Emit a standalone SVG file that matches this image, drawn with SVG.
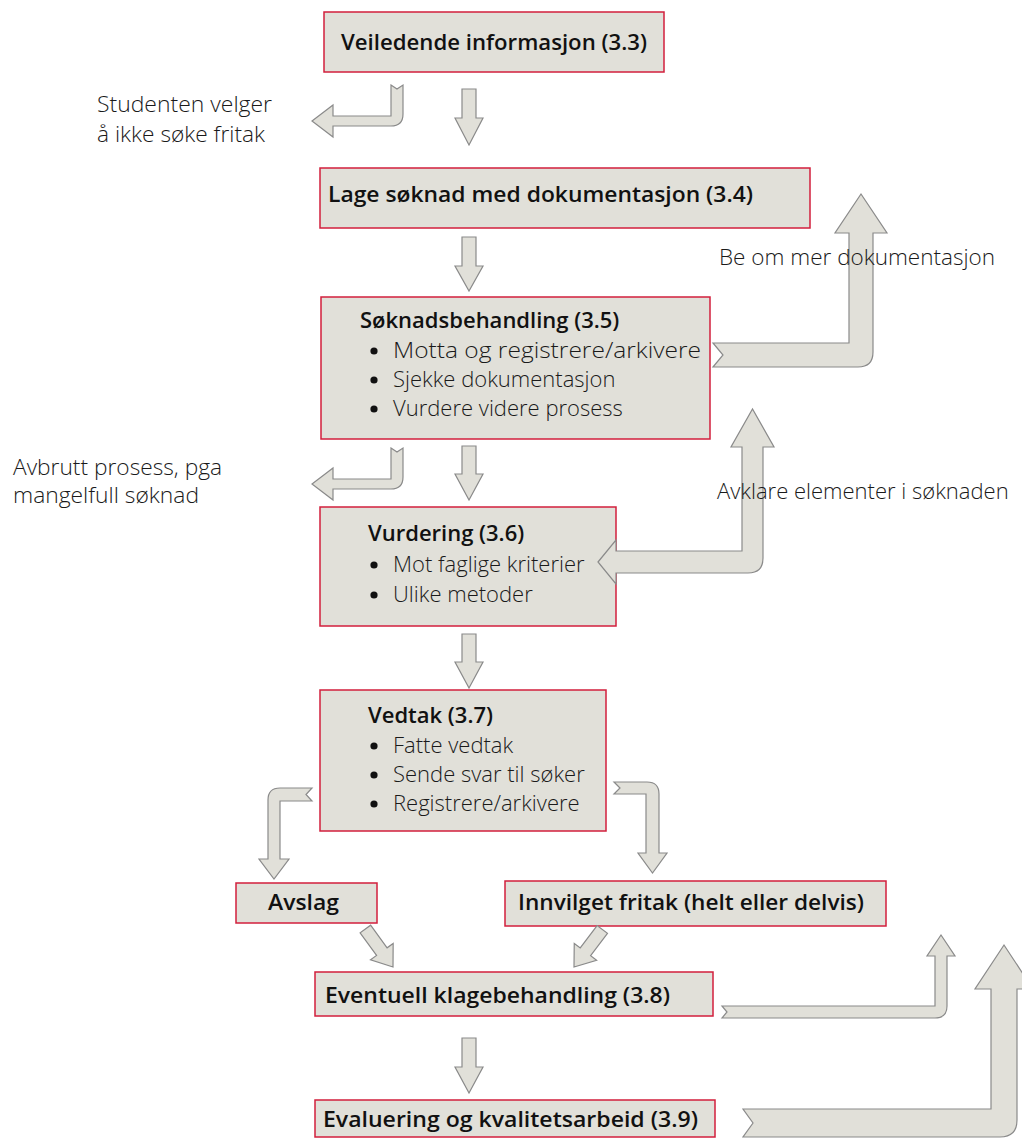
<svg xmlns="http://www.w3.org/2000/svg" width="1022" height="1139" viewBox="0 0 1022 1139">
<style>
.box{fill:#e1e0d9;stroke:#d21f3c;stroke-width:1.5}
.arr{fill:#e1e0d9;stroke:#8a8a8a;stroke-width:1.2;stroke-linejoin:miter}
.t{font-family:"Open Sans","Liberation Sans",sans-serif;font-size:22px;font-weight:600;fill:#111}
.l{font-family:"Open Sans","Liberation Sans",sans-serif;font-size:22px;font-weight:300;fill:#1a1a1a}
.b{fill:#111}
</style>
<rect width="1022" height="1139" fill="#fff"/>
<g id="n1"><rect class="box" x="324" y="12" width="340" height="60"/><text class="t" x="341" y="50" textLength="306" lengthAdjust="spacingAndGlyphs">Veiledende informasjon (3.3)</text></g>
<g id="n2"><rect class="box" x="320" y="168" width="490" height="60"/><text class="t" x="328" y="202" textLength="425" lengthAdjust="spacingAndGlyphs">Lage søknad med dokumentasjon (3.4)</text></g>
<g id="n3"><rect class="box" x="321" y="297" width="389" height="142"/>
<text class="t" x="360" y="328">Søknadsbehandling (3.5)</text>
<circle class="b" cx="374" cy="351" r="3.6"/><text class="l" x="393" y="358" textLength="308" lengthAdjust="spacingAndGlyphs">Motta og registrere/arkivere</text>
<circle class="b" cx="374" cy="380" r="3.6"/><text class="l" x="393" y="387">Sjekke dokumentasjon</text>
<circle class="b" cx="374" cy="409" r="3.6"/><text class="l" x="393" y="416">Vurdere videre prosess</text></g>
<g id="n4"><rect class="box" x="320" y="507" width="296" height="119"/>
<text class="t" x="368" y="541">Vurdering (3.6)</text>
<circle class="b" cx="374" cy="565" r="3.6"/><text class="l" x="393" y="572">Mot faglige kriterier</text>
<circle class="b" cx="374" cy="595" r="3.6"/><text class="l" x="393" y="602">Ulike metoder</text></g>
<g id="n5"><rect class="box" x="320" y="690" width="286" height="141"/>
<text class="t" x="368" y="723">Vedtak (3.7)</text>
<circle class="b" cx="374" cy="746" r="3.6"/><text class="l" x="393" y="753">Fatte vedtak</text>
<circle class="b" cx="374" cy="775" r="3.6"/><text class="l" x="393" y="782">Sende svar til søker</text>
<circle class="b" cx="374" cy="804" r="3.6"/><text class="l" x="393" y="811">Registrere/arkivere</text></g>
<g id="n6"><rect class="box" x="236" y="883" width="141" height="40"/><text class="t" x="268" y="910" textLength="71" lengthAdjust="spacingAndGlyphs">Avslag</text></g>
<g id="n7"><rect class="box" x="505" y="881" width="381" height="45"/><text class="t" x="518" y="910" textLength="346" lengthAdjust="spacingAndGlyphs">Innvilget fritak (helt eller delvis)</text></g>
<g id="n8"><rect class="box" x="315" y="972" width="398" height="44"/><text class="t" x="325" y="1003" textLength="345" lengthAdjust="spacingAndGlyphs">Eventuell klagebehandling (3.8)</text></g>
<g id="n9"><rect class="box" x="315" y="1100" width="400" height="37"/><text class="t" x="323" y="1127" textLength="375" lengthAdjust="spacingAndGlyphs">Evaluering og kvalitetsarbeid (3.9)</text></g>
<g id="connectors">
<path class="arr" d="M462,89 L476,89 L476,118 L483,118 L469,145 L455,118 L462,118 Z"/>
<path class="arr" d="M462,237 L476,237 L476,266 L483,266 L469,291 L455,266 L462,266 Z"/>
<path class="arr" d="M462,446 L476,446 L476,474 L483,474 L469,500 L455,474 L462,474 Z"/>
<path class="arr" d="M462,634 L476,634 L476,662 L483,662 L469,688 L455,662 L462,662 Z"/>
<path class="arr" d="M462,1038 L476,1038 L476,1067 L483,1067 L469,1093 L455,1067 L462,1067 Z"/>
<path class="arr" d="M391,85 L397,89 L403,85 L403,114 Q403,126 391,126 L333,126 L333,137 L312,121 L333,105 L333,116 L391,116 Z"/>
<path class="arr" d="M391,448 L397,452 L403,448 L403,477 Q403,489 391,489 L333,489 L333,500 L312,484 L333,468 L333,479 L391,479 Z"/>
<path class="arr" d="M713,343 L849,343 L849,233 L835,233 L861,194 L887,233 L873,233 L873,352 Q873,367 858,367 L713,367 L723,355 Z"/>
<path class="arr" d="M598,562 L616,540 L616,551 L742,551 L742,447 L731,447 L752.5,409 L774,447 L763,447 L763,558 Q763,573 748,573 L616,573 L616,584 Z"/>
<path class="arr" d="M312,788 L306,794.5 L312,801 L280,801 L280,859 L289,859 L274,879 L259,859 L268,859 L268,800 Q268,788 280,788 Z"/>
<path class="arr" d="M614,782 L647,782 Q659,782 659,794 L659,853 L667,853 L652.5,873 L638,853 L646,853 L646,794 L614,794 L620,788 Z"/>
<path class="arr" transform="translate(393,967) rotate(54)" d="M-47,-6.5 L-19,-6.5 L-19,-14 L0,0 L-19,14 L-19,6.5 L-47,6.5 Z"/>
<path class="arr" transform="translate(574,967) rotate(127)" d="M-47,-6.5 L-19,-6.5 L-19,-14 L0,0 L-19,14 L-19,6.5 L-47,6.5 Z"/>
<path class="arr" d="M722,1006 L935,1006 L935,956 L927,956 L941,935 L955,956 L947,956 L947,1006 Q947,1018 935,1018 L722,1018 L727,1012 Z"/>
<path class="arr" d="M743,1109 L991,1109 L991,989 L975,989 L1004,945 L1033,989 L1017,989 L1017,1120 Q1017,1137 1000,1137 L743,1137 L753,1123 Z"/>
</g>
<g id="labels">
<text class="l" x="97" y="112" textLength="175" lengthAdjust="spacingAndGlyphs">Studenten velger</text>
<text class="l" x="97" y="142" textLength="168" lengthAdjust="spacingAndGlyphs">å ikke søke fritak</text>
<text class="l" x="719" y="265" textLength="276" lengthAdjust="spacingAndGlyphs">Be om mer dokumentasjon</text>
<text class="l" x="13" y="475" textLength="209" lengthAdjust="spacingAndGlyphs">Avbrutt prosess, pga</text>
<text class="l" x="13" y="503" textLength="186" lengthAdjust="spacingAndGlyphs">mangelfull søknad</text>
<text class="l" x="717" y="499">Avklare elementer i søknaden</text>
</g>
</svg>
